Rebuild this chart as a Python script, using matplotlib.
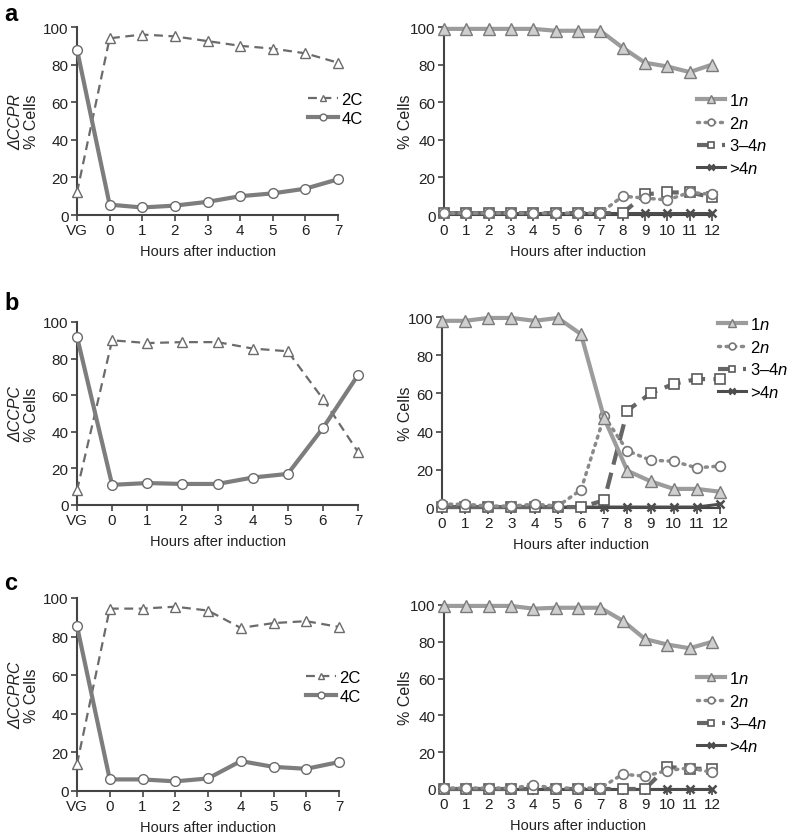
import matplotlib
matplotlib.use('Agg')
import matplotlib.pyplot as plt
import numpy as np

plt.rcParams['font.family'] = ['Liberation Sans', 'DejaVu Sans']
plt.rcParams['mathtext.fontset'] = 'custom'
plt.rcParams['mathtext.it'] = 'Liberation Sans:italic'
plt.rcParams['mathtext.rm'] = 'Liberation Sans'

# left panels: x = VG, 0..7
left_x = np.arange(-1, 8)
left_ticks = ['VG', '0', '1', '2', '3', '4', '5', '6', '7']
# right panels: 0..12 h
right_x = np.arange(0, 13)

strains = ['ΔCCPR', 'ΔCCPC', 'ΔCCPRC']

c2_a = [12, 94, 96, 95, 92.5, 90, 88.5, 86, 81]
c4_a = [88, 5.5, 4, 5, 7, 10, 11.5, 14, 19]
c2_b = [8, 90, 88.5, 89, 89, 85.5, 84, 58, 29]
c4_b = [92, 11, 12, 11.5, 11.5, 15, 17, 42, 71]
c2_c = [14, 94.5, 94.5, 95.5, 93.5, 84.5, 87, 88, 85]
c4_c = [85.5, 6, 6, 5, 6.5, 15.5, 12.5, 11.5, 15]

n1_a = [99, 99, 99, 99, 99, 98, 98, 98, 89, 81, 79, 76, 80]
n2_a = [1, 1, 1, 1, 1, 1, 1, 1, 10, 9, 8, 12, 11]
n34_a = [1, 1, 1, 1, 1, 1, 1, 1, 1, 11, 12, 12, 9.5]
n4_a = [1, 1, 1, 1, 1, 1, 1, 1, 1, 1, 1, 1, 1]

n1_b = [98, 98, 99.5, 99.5, 98, 99.5, 91, 47, 19.5, 14, 10, 10, 8.5]
n2_b = [2, 2, 1, 1, 2, 1, 9.5, 48, 30, 25, 24.5, 21, 22]
n34_b = [0.5, 0.5, 0.5, 0.5, 0.5, 0.5, 0.5, 4, 51, 60, 65, 67.5, 67.5]
n4_b = [0.5, 0.5, 0.5, 0.5, 0.5, 0.5, 0.5, 0.5, 0.5, 0.5, 0.5, 0.5, 2]

n1_c = [99.5, 99.5, 99.5, 99.5, 98, 98.5, 98.5, 98.5, 91.5, 81.5, 78.5, 76.5, 80]
n2_c = [0.5, 0.5, 0.5, 0.5, 2, 0.5, 0.5, 0.5, 8, 7, 10, 11.5, 9]
n34_c = [0, 0, 0, 0, 0, 0, 0, 0, 0, 0, 12, 11, 11]
n4_c = [0, 0, 0, 0, 0, 0, 0, 0, 0, 0, 0, 0, 0]

W, H = 788, 837
TICK_FS = 11
LABEL_FS = 10.5
YLAB_FS = 11.5
LEG_FS = 12
fig = plt.figure(figsize=(W / 100, H / 100), dpi=100)


def box(x0, x1, ytop, ybot):
    return [x0 / W, 1 - ybot / H, (x1 - x0) / W, (ybot - ytop) / H]


def style(ax):
    for s in ['top', 'right']:
        ax.spines[s].set_visible(False)
    for s in ['left', 'bottom']:
        ax.spines[s].set_color('#444444')
        ax.spines[s].set_linewidth(1.5)
    ax.tick_params(colors='#444444', labelcolor='#222222', labelsize=TICK_FS,
                   width=1.2, length=4, pad=2)
    ax.set_ylim(0, 100)
    ax.set_yticks([0, 20, 40, 60, 80, 100])
    ax.set_xlabel('Hours after induction', fontsize=LABEL_FS, color='#222222', labelpad=5)


left_boxes = [box(77, 338, 28, 216), box(77, 358, 323, 506), box(77, 339, 599, 792)]
right_boxes = [box(444, 712, 28, 216), box(442, 720, 318, 509), box(444, 712, 606, 790)]
letters_y = [3, 292, 572]
left_data = [(c2_a, c4_a), (c2_b, c4_b), (c2_c, c4_c)]
right_data = [(n1_a, n2_a, n34_a, n4_a), (n1_b, n2_b, n34_b, n4_b), (n1_c, n2_c, n34_c, n4_c)]
left_leg = [(308, 93), None, (306, 671)]
right_leg = [(697, 93), (718, 317), (697, 671)]

for i in range(3):
    fig.text(4 / W, 1 - letters_y[i] / H, 'abc'[i], fontsize=17, fontweight='bold', va='top')

    ax = fig.add_axes(left_boxes[i])
    c2, c4 = left_data[i]
    ax.plot(left_x, c2, color='#6b6b6b', lw=1.6, ls=(0, (4, 2.5)), marker='^', ms=7,
            mfc='white', mec='#6b6b6b', mew=1, clip_on=False, label='2C', zorder=3)
    ax.plot(left_x, c4, color='#7d7d7d', lw=3, marker='o', ms=7,
            mfc='white', mec='#6b6b6b', mew=1, clip_on=False, label='4C', zorder=3)
    ax.set_xlim(-1, 7)
    ax.set_xticks(left_x)
    ax.set_xticklabels(left_ticks)
    style(ax)
    cy = (left_boxes[i][1] + left_boxes[i][3] / 2)
    fig.text(16 / W, cy, strains[i], rotation=90, fontstyle='italic', fontsize=YLAB_FS,
             color='#222222', ha='center', va='center')
    fig.text(31 / W, cy, '% Cells', rotation=90, fontsize=YLAB_FS,
             color='#222222', ha='center', va='center')
    if left_leg[i] is not None:
        lx, ly = left_leg[i]
        ax.legend(loc='upper left', bbox_to_anchor=(lx / W, 1 - ly / H),
                  bbox_transform=fig.transFigure, frameon=False, fontsize=LEG_FS,
                  handlelength=1.8, handletextpad=0.2, labelspacing=0.25,
                  borderpad=0, borderaxespad=0, markerscale=0.7)

    ax = fig.add_axes(right_boxes[i])
    n1, n2, n34, n4 = right_data[i]
    ax.plot(right_x, n4, color='#4d4d4d', lw=2.2, marker='x', ms=6, mew=1.8,
            clip_on=False, label='>4$\\mathit{n}$', zorder=3)
    ax.plot(right_x, n34, color='#666666', lw=3, ls=(0, (4, 2)), marker='s', ms=7,
            mfc='white', mec='#5a5a5a', mew=1.2, clip_on=False, label='3–4$\\mathit{n}$', zorder=4)
    ax.plot(right_x, n2, color='#8a8a8a', lw=2.5, ls=(0, (0.6, 1.6)), dash_capstyle='round',
            marker='o', ms=7, mfc='white', mec='#777777', mew=1.2, clip_on=False,
            label='2$\\mathit{n}$', zorder=5)
    ax.plot(right_x, n1, color='#9c9c9c', lw=3, marker='^', ms=8,
            mfc='#cfcfcf', mec='#7a7a7a', mew=1, clip_on=False, label='1$\\mathit{n}$', zorder=6)
    ax.set_xlim(0, 12)
    ax.set_xticks(right_x)
    style(ax)
    cy = (right_boxes[i][1] + right_boxes[i][3] / 2)
    fig.text(405 / W, cy, '% Cells', rotation=90, fontsize=YLAB_FS,
             color='#222222', ha='center', va='center')
    handles, labels = ax.get_legend_handles_labels()
    lx, ly = right_leg[i]
    ax.legend(handles[::-1], labels[::-1], loc='upper left',
              bbox_to_anchor=(lx / W, 1 - ly / H),
              bbox_transform=fig.transFigure, frameon=False, fontsize=LEG_FS,
              handlelength=1.7, handletextpad=0.2, labelspacing=0.4,
              borderpad=0, borderaxespad=0, markerscale=0.7)

fig.savefig('out.png', dpi=100)
